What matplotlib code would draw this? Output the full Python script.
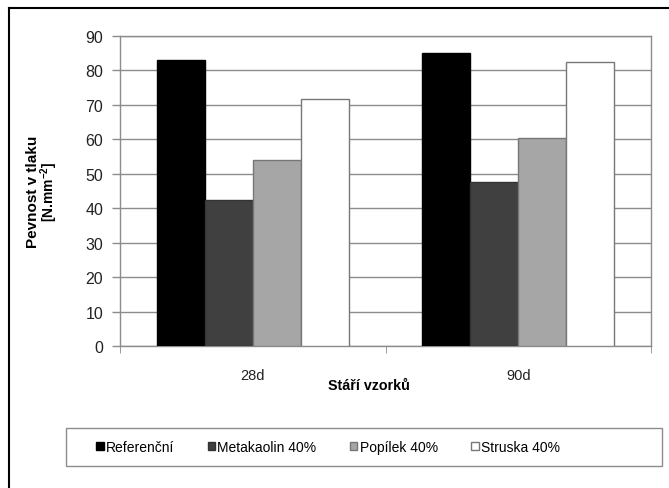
import matplotlib
matplotlib.use('Agg')
import matplotlib.pyplot as plt
from matplotlib.lines import Line2D
from matplotlib.patches import Rectangle
import numpy as np

plt.rcParams['font.family'] = ['Liberation Sans', 'DejaVu Sans']

# compressive strength by sample age
ages = ['28d', '90d']
series = ['Referenční', 'Metakaolin 40%', 'Popílek 40%', 'Struska 40%']
referencni = [83.0, 85.0]
metakaolin = [42.5, 47.6]
popilek = [54.0, 60.5]
struska = [71.6, 82.5]

faces = ['#000000', '#404040', '#a6a6a6', '#ffffff']
edges = ['#000000', '#333333', '#777777', '#777777']

W, H = 669, 489
fig = plt.figure(figsize=(W / 100, H / 100), dpi=100)
ax = fig.add_axes([120 / W, 1 - 347 / H, 531 / W, 310 / H])

x = np.arange(len(ages))
bw = 0.181
values = [referencni, metakaolin, popilek, struska]
for i, (vals, fc, ec) in enumerate(zip(values, faces, edges)):
    ax.bar(x + (i - 1.5) * bw, vals, bw, color=fc, edgecolor=ec,
           linewidth=1.0, label=series[i], zorder=3)

grey = '#8c8c8c'
ax.set_xlim(-0.5, 1.5)
ax.set_ylim(0, 90)
ax.set_yticks(range(0, 91, 10))
ax.yaxis.grid(True, color=grey, lw=1.0, zorder=0)
for s in ax.spines.values():
    s.set_color(grey)
    s.set_linewidth(1.0)

ax.set_xticks(x)
ax.set_xticklabels(ages)
ax.set_xticks([-0.5, 0.5, 1.5], minor=True)
ax.tick_params(axis='x', which='major', length=0, pad=16, labelsize=10.5,
               colors='#222222')
ax.tick_params(axis='x', which='minor', length=5, color=grey, direction='out')
ax.tick_params(axis='y', length=6, color=grey, width=1.0, pad=6,
               labelsize=11.5, labelcolor='#222222')

fig.text(369 / W, 1 - 386 / H, 'Stáří vzorků', ha='center', va='center',
         fontsize=10.3, fontweight='bold')
fig.text(33 / W, 1 - 192 / H, 'Pevnost v tlaku', rotation=90,
         ha='center', va='center', fontsize=11, fontweight='bold')
fig.text(49 / W, 1 - 192 / H, r'[N.mm$^{\mathregular{-2}}$]', rotation=90,
         ha='center', va='center', fontsize=10, fontweight='bold')

# outer chart frame (top and left edges only)
fig.add_artist(Line2D([9 / W, 9 / W], [0, 1 - 9 / H], color='black', lw=1.5))
fig.add_artist(Line2D([9 / W, 1], [1 - 9 / H, 1 - 9 / H], color='black', lw=1.5))

# legend box
fig.add_artist(Rectangle((66 / W, 1 - 467 / H), 596 / W, 38 / H,
                         transform=fig.transFigure, fill=False,
                         edgecolor=grey, lw=1.0))
handles, labels = ax.get_legend_handles_labels()
fig.legend(handles, labels, loc='center', bbox_to_anchor=(328 / W, 1 - 448 / H),
           ncol=4, frameon=False, fontsize=10, handlelength=0.55,
           handleheight=0.55, handletextpad=0.15, columnspacing=2.4)

fig.savefig('out.png', dpi=100)
